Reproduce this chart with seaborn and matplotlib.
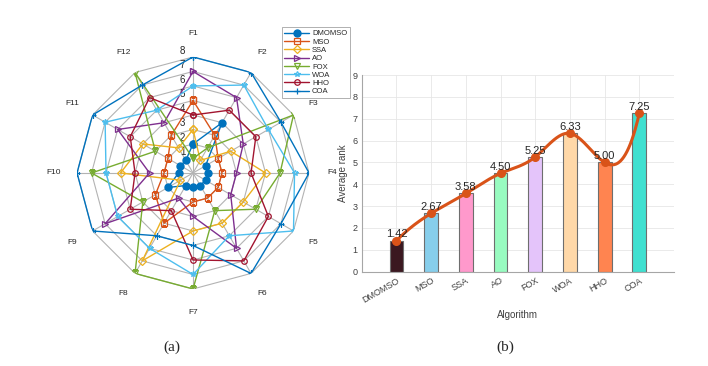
import numpy as np
import pandas as pd
import seaborn as sns
import matplotlib.pyplot as plt

sns.set_theme(style="white")
plt.rcParams['font.family'] = ['Liberation Sans', 'DejaVu Sans']

# ---- data ----
functions = ['F1', 'F2', 'F3', 'F4', 'F5', 'F6', 'F7', 'F8', 'F9', 'F10', 'F11', 'F12']
algorithms = ['DMOMSO', 'MSO', 'SSA', 'AO', 'FOX', 'WOA', 'HHO', 'COA']

rank_dmomso = [2, 4, 1, 1, 1, 1, 1, 1, 2, 1, 1, 1]
rank_mso = [5, 3, 2, 2, 2, 2, 2, 4, 3, 2, 2, 3]
rank_ssa = [3, 1, 3, 5, 4, 4, 4, 7, 1, 5, 4, 2]
rank_ao = [7, 6, 4, 3, 3, 6, 3, 2, 7, 3, 6, 4]
rank_fox = [1, 2, 8, 6, 5, 3, 8, 8, 4, 7, 3, 8]
rank_woa = [6, 7, 6, 7, 8, 5, 7, 6, 6, 6, 7, 5]
rank_hho = [4, 5, 5, 4, 6, 7, 6, 3, 5, 4, 5, 6]
rank_coa = [8, 8, 7, 8, 7, 8, 5, 5, 8, 8, 8, 7]

avg_rank = [1.42, 2.67, 3.58, 4.50, 5.25, 6.33, 5.00, 7.25]

line_colors = ['#0072BD', '#D95319', '#EDB120', '#7E2F8E', '#77AC30', '#4DBEEE', '#A2142F', '#0072BD']
markers = ['o', 's', 'D', '>', 'v', '*', 'o', '+']
bar_colors = ['#3B1820', '#87CEEB', '#FF99CC', '#98FBC0', '#E4C4FA', '#FFD8A8', '#FF8450', '#40E0D0']


def spline_curve(y, num=300):
    # not-a-knot cubic spline on unit-spaced x (like matlab's spline)
    y = np.asarray(y, dtype=float)
    n = len(y)
    A = np.zeros((n, n))
    b = np.zeros(n)
    A[0, 0:3] = [1, -2, 1]
    A[-1, -3:] = [1, -2, 1]
    for i in range(1, n - 1):
        A[i, i - 1:i + 2] = [1, 4, 1]
        b[i] = 6 * (y[i + 1] - 2 * y[i] + y[i - 1])
    M = np.linalg.solve(A, b)
    xs = np.linspace(0, n - 1, num)
    i = np.clip(np.floor(xs).astype(int), 0, n - 2)
    t = xs - i
    ys = (M[i] * (1 - t) ** 3 / 6 + M[i + 1] * t ** 3 / 6
          + (y[i] - M[i] / 6) * (1 - t) + (y[i + 1] - M[i + 1] / 6) * t)
    return xs, ys


fig = plt.figure(figsize=(7.08, 3.66), dpi=100)

# ---- (a) radar ----
ax1 = fig.add_axes([0.1088, 0.2104, 0.3277, 0.634], projection='polar')
ax1.set_theta_offset(np.pi / 2)
ax1.set_theta_direction(-1)
ax1.set_ylim(0, 8)
ax1.grid(False)
ax1.spines['polar'].set_visible(False)
ax1.set_xticks([])
ax1.set_yticks([])
ax1.patch.set_alpha(0)

theta = np.linspace(0, 2 * np.pi, len(functions), endpoint=False)
theta_c = np.append(theta, theta[0])
grid_c = '#b3b3b3'
for k in range(1, 9):
    ax1.plot(theta_c, [k] * len(theta_c), color=grid_c, lw=0.8, zorder=1)
for th in theta:
    ax1.plot([th, th], [0, 8], color=grid_c, lw=0.8, zorder=1)
for k in range(1, 9):
    ax1.annotate(str(k), xy=(0, k), xytext=(-7.5, 4.5), textcoords='offset points',
                 ha='center', va='center', fontsize=7, color='#262626')
for th, f in zip(theta, functions):
    ax1.text(th, 9.6, f, ha='center', va='center', fontsize=6, color='#262626', clip_on=False)

series = [rank_dmomso, rank_mso, rank_ssa, rank_ao, rank_fox, rank_woa, rank_hho, rank_coa]
for name, vals, c, m in zip(algorithms, series, line_colors, markers):
    v = np.append(vals, vals[0])
    if name == 'DMOMSO':
        ax1.plot(theta_c, v, color=c, lw=1.0, marker=m, ms=5, mfc=c, mec=c, label=name, zorder=3)
    else:
        ax1.plot(theta_c, v, color=c, lw=1.0, marker=m, ms=4, mfc='none', mec=c, mew=0.9,
                 label=name, zorder=3)

leg = fig.legend(*ax1.get_legend_handles_labels(), loc='upper left',
                 bbox_to_anchor=(0.398, 0.925), fontsize=5.5, frameon=True, fancybox=False,
                 edgecolor='#8c8c8c', handlelength=3.2, labelspacing=0.12, borderpad=0.35,
                 handletextpad=0.4, borderaxespad=0)
leg.get_frame().set_linewidth(0.6)

# ---- (b) average rank ----
ax2 = fig.add_axes([0.511, 0.2577, 0.441, 0.5373])
df = pd.DataFrame({'Algorithm': algorithms, 'Average rank': avg_rank})
sns.barplot(data=df, x='Algorithm', y='Average rank', hue='Algorithm', palette=bar_colors,
            saturation=1, width=0.4, edgecolor='#6e6e6e', linewidth=0.8, legend=False,
            ax=ax2, zorder=2)
xs, ys = spline_curve(avg_rank)
ax2.plot(xs, ys, color='#D95319', lw=2.2, zorder=4)
ax2.plot(np.arange(len(algorithms)), avg_rank, ls='none', marker='o', ms=5.5,
         color='#D95319', zorder=5)
for i, v in enumerate(avg_rank):
    ax2.annotate(f'{v:.2f}', xy=(i, v), xytext=(0, 1), textcoords='offset points',
                 ha='center', va='bottom', fontsize=8, color='#262626', zorder=6)

ax2.set_xlim(-1, 8)
ax2.set_ylim(0, 9)
ax2.set_yticks(range(10))
ax2.set_xticks(range(len(algorithms)))
ax2.set_xticklabels(algorithms, rotation=30, ha='right', rotation_mode='anchor', fontsize=6.5,
                    color='#404040')
ax2.tick_params(axis='y', labelsize=6.5, labelcolor='#404040', length=2, direction='in',
                color='#808080', pad=3)
ax2.tick_params(axis='x', length=0, pad=3)
ax2.grid(True, color='#e6e6e6', lw=0.6, zorder=0)
ax2.set_axisbelow(True)
for s in ['top', 'right']:
    ax2.spines[s].set_visible(False)
for s in ['left', 'bottom']:
    ax2.spines[s].set_color('#a6a6a6')
    ax2.spines[s].set_linewidth(0.8)
ax2.set_xlabel('Algorithm', fontsize=7, color='#404040', labelpad=4)
ax2.set_ylabel('Average rank', fontsize=7, color='#404040', labelpad=3)

fig.text(0.2425, 0.052, '(a)', ha='center', va='center', fontsize=11, family='Liberation Serif')
fig.text(0.7133, 0.052, '(b)', ha='center', va='center', fontsize=11, family='Liberation Serif')

fig.savefig('out.png', dpi=100)
